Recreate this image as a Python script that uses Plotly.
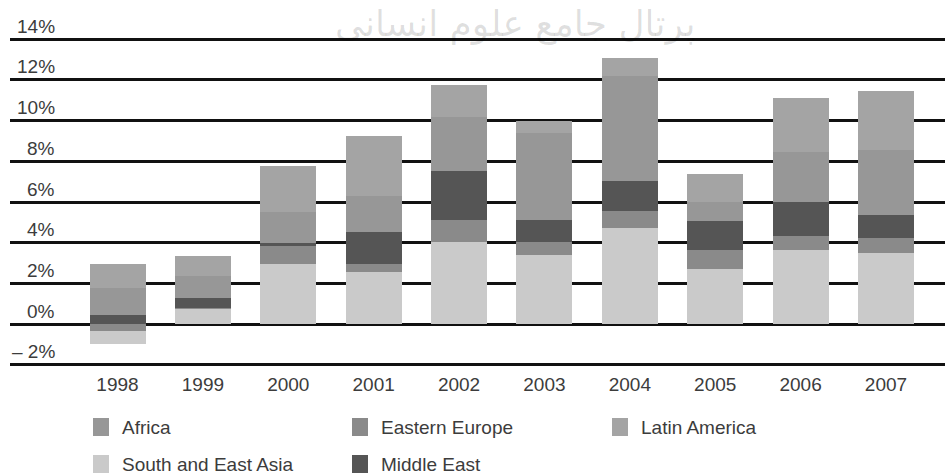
import numpy as np
import plotly.graph_objects as go

# Contributions by region, percentage points
years = ["1998", "1999", "2000", "2001", "2002", "2003", "2004", "2005", "2006", "2007"]
south_east_asia = [-0.62, 0.75, 2.94, 2.55, 4.05, 3.41, 4.72, 2.69, 3.63, 3.51]
eastern_europe = [-0.33, 0.05, 0.88, 0.42, 1.08, 0.64, 0.83, 0.97, 0.70, 0.71]
middle_east = [0.44, 0.50, 0.18, 1.58, 2.40, 1.08, 1.51, 1.42, 1.67, 1.16]
africa = [1.32, 1.09, 1.50, 1.73, 2.67, 4.26, 5.14, 0.94, 2.44, 3.19]
latin_america = [1.18, 0.98, 2.27, 2.95, 1.57, 0.61, 0.90, 1.36, 2.66, 2.90]

y_ticks = [-2, 0, 2, 4, 6, 8, 10, 12, 14]

series = {
    "Africa": africa,
    "Eastern Europe": eastern_europe,
    "Latin America": latin_america,
    "South and East Asia": south_east_asia,
    "Middle East": middle_east,
}
colors = {
    "Africa": "#979797",
    "Eastern Europe": "#8a8a8a",
    "Latin America": "#a4a4a4",
    "South and East Asia": "#cacaca",
    "Middle East": "#555555",
}
# bottom-to-top stacking order of the positive parts
stack_order = ["South and East Asia", "Eastern Europe", "Middle East", "Africa", "Latin America"]

# compute bar bases: positives stack upward, negatives stack downward
n = len(years)
bases = {}
top = np.zeros(n)
for name in stack_order:
    v = np.array(series[name], dtype=float)
    bases[name] = np.where(v >= 0, top, 0.0)
    top = top + np.clip(v, 0, None)
bottom = np.zeros(n)
for name in reversed(stack_order):
    v = np.array(series[name], dtype=float)
    bases[name] = np.where(v < 0, bottom, bases[name])
    bottom = bottom + np.clip(v, None, 0)

W, H = 945, 474
ML, MR, MT, MB = 10, 0, 25, 103
Y_RANGE = [-2.3, 14.7]
X_RANGE = [-1.259, 9.691]
PW = W - ML - MR
PH = H - MT - MB


def px_x(x):
    return (x - ML) / PW


def px_y(y):
    return (H - MB - y) / PH


TEXT = "#3c3c3c"
FONT = "Liberation Sans"

fig = go.Figure()
for name in stack_order:
    fig.add_trace(go.Bar(
        x=years,
        y=series[name],
        base=bases[name],
        name=name,
        width=0.656,
        marker=dict(color=colors[name], line=dict(width=0)),
        showlegend=False,
    ))

annotations = []
# y tick labels sit above their grid lines
for t in y_ticks:
    label = f"{t}%" if t >= 0 else f"\u2013 {abs(t)}%"
    annotations.append(dict(
        x=px_x(57), xref="paper", xanchor="right",
        y=t, yref="y", yanchor="middle", yshift=13,
        text=label, showarrow=False,
        font=dict(family=FONT, size=19, color=TEXT),
    ))

# legend laid out in a grid below the chart
legend_cols = [93, 352, 612]
legend_rows = [427, 464]
shapes = []
for i, name in enumerate(series.keys()):
    cx = legend_cols[i % 3]
    cy = legend_rows[i // 3]
    shapes.append(dict(
        type="rect", xref="paper", yref="paper",
        x0=px_x(cx), x1=px_x(cx + 16),
        y0=px_y(cy - 9), y1=px_y(cy + 9),
        fillcolor=colors[name], line=dict(width=0),
    ))
    annotations.append(dict(
        x=px_x(cx + 27), xref="paper", xanchor="left",
        y=px_y(cy), yref="paper", yanchor="middle",
        text=name, showarrow=False,
        font=dict(family=FONT, size=19, color=TEXT),
    ))

# faint site mark along the top edge
annotations.append(dict(
    x=px_x(515), xref="paper", xanchor="center",
    y=px_y(24), yref="paper", yanchor="middle",
    text="پرتال جامع علوم انسانی", showarrow=False,
    font=dict(family="DejaVu Sans", size=36, color="rgba(0,0,0,0.13)"),
))

fig.update_layout(
    width=W, height=H,
    margin=dict(l=ML, r=MR, t=MT, b=MB),
    paper_bgcolor="white", plot_bgcolor="white",
    barmode="overlay",
    bargap=0,
    xaxis=dict(
        type="category", range=X_RANGE,
        showgrid=False, zeroline=False, showline=False, ticks="",
        tickfont=dict(family=FONT, size=19, color=TEXT),
        fixedrange=True,
    ),
    yaxis=dict(
        range=Y_RANGE, tickvals=y_ticks, showticklabels=False,
        showgrid=True, gridcolor="#111111", gridwidth=2.5,
        zeroline=False, showline=False, ticks="",
        fixedrange=True,
    ),
    shapes=shapes,
    annotations=annotations,
)

fig.write_html("out.html")
